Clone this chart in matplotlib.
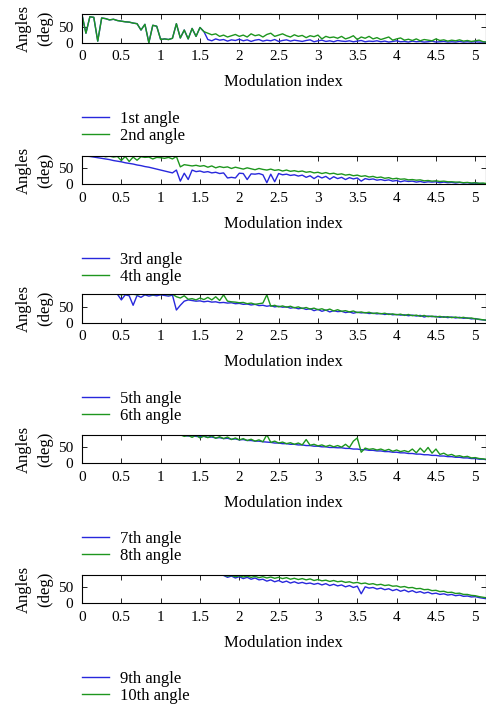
import numpy as np
import matplotlib
matplotlib.use("Agg")
import matplotlib.pyplot as plt

plt.rcParams['font.family'] = ['Liberation Serif', 'DejaVu Serif']
plt.rcParams['font.size'] = 12

# modulation index grid (step 0.05, 0 .. 5.15)
mod_index = np.round(np.arange(0, 5.151, 0.05), 2)

angle1 = [88, 30, 82, 80, 5, 78, 76, 72, 74, 70, 68, 66, 65, 62, 60, 40, 58, 0, 55, 52,
          10, 12, 10, 14, 60, 15, 40, 12, 45, 20, 48, 35, 10, 6, 12, 8, 10, 5, 9, 7,
          11, 6, 9, 4, 8, 10, 5, 8, 6, 10, 4, 7, 9, 5, 8, 6, 4, 7, 9, 3,
          6, 8, 4, 6, 3, 7, 5, 4, 6, 3, 5, 7, 3, 5, 4, 6, 3, 5, 2, 4,
          6, 3, 4, 2, 5, 3, 4, 2, 3, 5, 2, 3, 4, 2, 3, 2, 4, 2, 3, 2,
          3, 2, 2, 1]
angle2 = [88, 30, 82, 80, 5, 78, 76, 72, 74, 70, 68, 66, 65, 62, 60, 40, 58, 0, 55, 52,
          10, 12, 10, 14, 60, 15, 40, 12, 45, 20, 48, 35, 30, 25, 28, 20, 24, 18, 22, 26,
          20, 24, 18, 28, 22, 25, 18, 26, 30, 20, 24, 28, 22, 18, 25, 20, 23, 16, 22, 19,
          24, 12, 20, 16, 18, 14, 20, 12, 16, 22, 10, 18, 14, 20, 12, 16, 10, 14, 18, 8,
          12, 15, 8, 11, 7, 12, 6, 10, 8, 6, 12, 7, 9, 5, 8, 6, 9, 5, 7, 4,
          6, 8, 3, 2]
angle3 = [90, 89, 88, 86, 84, 82, 80, 78, 75, 73, 71, 68, 66, 64, 61, 59, 56, 54, 51, 48,
          45, 42, 39, 36, 45, 10, 35, 15, 45, 40, 42, 38, 40, 36, 38, 34, 36, 20, 22, 20,
          35, 34, 15, 33, 32, 34, 30, 5, 32, 8, 34, 30, 32, 28, 30, 26, 29, 22, 27, 18,
          26, 20, 25, 16, 24, 18, 22, 15, 21, 17, 20, 10, 18, 15, 17, 13, 15, 12, 14, 10,
          12, 8, 11, 9, 10, 7, 9, 6, 8, 7, 8, 5, 7, 5, 6, 4, 6, 4, 5, 3,
          4, 3, 2, 1]
angle4 = [90, 90, 89, 90, 88, 90, 87, 89, 86, 88, 75, 88, 72, 86, 76, 87, 85, 86, 80, 85,
          84, 82, 85, 80, 88, 55, 62, 60, 58, 60, 57, 59, 54, 58, 52, 56, 53, 55, 50, 54,
          51, 48, 52, 49, 46, 50, 47, 45, 48, 44, 46, 42, 45, 41, 43, 40, 42, 38, 40, 36,
          38, 34, 37, 33, 35, 31, 33, 29, 31, 27, 29, 25, 27, 23, 25, 21, 23, 19, 21, 17,
          19, 16, 17, 14, 15, 13, 14, 11, 12, 10, 11, 9, 10, 8, 8, 7, 7, 5, 6, 4,
          5, 3, 4, 2]
angle5 = [90, 90, 90, 90, 90, 90, 90, 90, 90, 90, 72, 88, 85, 55, 86, 80, 88, 84, 87, 85,
          88, 86, 84, 87, 40, 55, 68, 72, 70, 68, 69, 66, 68, 65, 66, 63, 64, 62, 63, 60,
          61, 58, 59, 56, 58, 54, 55, 52, 54, 50, 52, 49, 50, 46, 48, 44, 46, 42, 44, 38,
          42, 36, 40, 34, 38, 35, 36, 32, 34, 30, 33, 31, 32, 29, 30, 28, 29, 26, 28, 25,
          26, 24, 25, 22, 24, 21, 23, 18, 21, 19, 20, 17, 19, 16, 18, 15, 17, 14, 15, 12,
          13, 10, 9, 7]
angle6 = [90, 90, 90, 90, 90, 90, 90, 90, 90, 90, 88, 90, 89, 90, 88, 90, 89, 90, 88, 90,
          89, 90, 88, 90, 82, 78, 85, 74, 76, 72, 78, 73, 80, 72, 82, 70, 88, 68, 66, 65,
          63, 64, 60, 62, 58, 60, 62, 88, 52, 55, 50, 53, 49, 52, 47, 50, 45, 48, 43, 46,
          41, 44, 39, 43, 37, 41, 36, 38, 34, 37, 32, 34, 31, 33, 29, 31, 28, 30, 26, 28,
          25, 27, 23, 26, 22, 24, 20, 23, 19, 21, 18, 20, 17, 19, 16, 18, 15, 17, 14, 15,
          12, 11, 9, 8]
angle7 = [90, 90, 90, 90, 90, 90, 90, 90, 90, 90, 90, 90, 90, 90, 90, 90, 90, 90, 90, 90,
          90, 90, 90, 90, 90, 90, 88, 86, 87, 85, 84, 85, 82, 83, 80, 81, 78, 79, 76, 77,
          74, 75, 72, 72, 70, 70, 68, 67, 66, 64, 64, 62, 62, 60, 60, 58, 58, 56, 56, 54,
          54, 52, 52, 50, 50, 49, 49, 47, 47, 45, 45, 43, 43, 41, 41, 39, 39, 37, 37, 35,
          35, 33, 33, 31, 31, 29, 29, 27, 27, 25, 25, 23, 23, 21, 21, 19, 19, 17, 17, 15,
          15, 13, 13, 11]
angle8 = [90, 90, 90, 90, 90, 90, 90, 90, 90, 90, 90, 90, 90, 90, 90, 90, 90, 90, 90, 90,
          90, 90, 90, 90, 90, 90, 85, 88, 82, 89, 80, 86, 81, 87, 79, 84, 78, 83, 75, 80,
          74, 78, 72, 76, 70, 74, 68, 90, 66, 70, 64, 67, 62, 65, 60, 64, 58, 75, 57, 60,
          55, 58, 53, 57, 52, 56, 51, 60, 50, 70, 80, 35, 48, 44, 46, 42, 45, 40, 44, 38,
          42, 37, 40, 36, 45, 33, 48, 35, 50, 32, 45, 28, 32, 25, 28, 22, 24, 20, 22, 17,
          18, 15, 14, 12]
angle9 = [90, 90, 90, 90, 90, 90, 90, 90, 90, 90, 90, 90, 90, 90, 90, 90, 90, 90, 90, 90,
          90, 90, 90, 90, 90, 90, 90, 90, 90, 90, 90, 90, 90, 90, 90, 90, 88, 82, 86, 80,
          84, 78, 82, 76, 80, 74, 76, 70, 74, 68, 72, 66, 70, 64, 68, 63, 66, 62, 64, 60,
          63, 58, 62, 56, 60, 55, 58, 52, 56, 50, 54, 30, 52, 48, 50, 45, 48, 43, 46, 40,
          44, 38, 42, 36, 40, 34, 37, 32, 35, 30, 32, 28, 30, 26, 28, 24, 26, 22, 23, 20,
          21, 18, 16, 14]
angle10 = [90, 90, 90, 90, 90, 90, 90, 90, 90, 90, 90, 90, 90, 90, 90, 90, 90, 90, 90, 90,
           90, 90, 90, 90, 90, 90, 90, 90, 90, 90, 90, 90, 90, 90, 90, 90, 89, 86, 88, 84,
           87, 83, 86, 82, 85, 81, 84, 80, 83, 79, 82, 78, 81, 76, 79, 75, 78, 74, 77, 72,
           75, 71, 73, 69, 72, 68, 70, 66, 68, 64, 66, 62, 64, 60, 62, 58, 60, 56, 58, 54,
           55, 51, 53, 49, 50, 46, 47, 43, 44, 40, 41, 37, 38, 34, 35, 31, 32, 28, 28, 25,
           24, 21, 19, 17]

pairs = [(angle1, angle2, "1st angle", "2nd angle"),
         (angle3, angle4, "3rd angle", "4th angle"),
         (angle5, angle6, "5th angle", "6th angle"),
         (angle7, angle8, "7th angle", "8th angle"),
         (angle9, angle10, "9th angle", "10th angle")]

xticks = [0, 0.5, 1, 1.5, 2, 2.5, 3, 3.5, 4, 4.5, 5]
xticklabels = ["0", "0.5", "1", "1.5", "2", "2.5", "3", "3.5", "4", "4.5", "5"]

W, H = 486, 705
fig = plt.figure(figsize=(W / 100, H / 100), dpi=100)

# pixel bottoms of the five axes
bottoms = [42.7, 184.3, 322.7, 463.3, 603.3]
ax_h = 28.5
left_px, right_px = 82.0, 485.5

blue = "#2828dc"
green = "#1e961e"

for (a, b, la, lb), bot in zip(pairs, bottoms):
    ax = fig.add_axes([left_px / W, 1 - bot / H, (right_px - left_px) / W, ax_h / H])
    l1, = ax.plot(mod_index, a, color=blue, lw=1.0)
    l2, = ax.plot(mod_index, b, color=green, lw=1.0)
    ax.set_xlim(0, 5.13)
    ax.set_ylim(0, 90)
    ax.set_yticks([0, 50])
    ax.set_xticks(xticks)
    ax.set_xticklabels(xticklabels)
    ax.tick_params(direction="in", top=True, right=True, length=3.5, width=0.6, labelsize=11)
    ax.tick_params(axis="x", pad=5.5)
    ax.tick_params(axis="y", pad=6.5)
    for s in ax.spines.values():
        s.set_linewidth(0.8)
    ax.set_xlabel("Modulation index", fontsize=12, labelpad=8)
    ax.set_ylabel("Angles\n(deg)", fontsize=12, labelpad=3, linespacing=1.45)
    ax.legend([l1, l2], [la, lb], loc="upper left",
              bbox_to_anchor=(82 / W, 1 - (bot + 68) / H), bbox_transform=fig.transFigure,
              frameon=False, fontsize=12, handlelength=1.6, handletextpad=0.7,
              labelspacing=0.05, borderpad=0, borderaxespad=0)

fig.savefig("out.png", dpi=100)
